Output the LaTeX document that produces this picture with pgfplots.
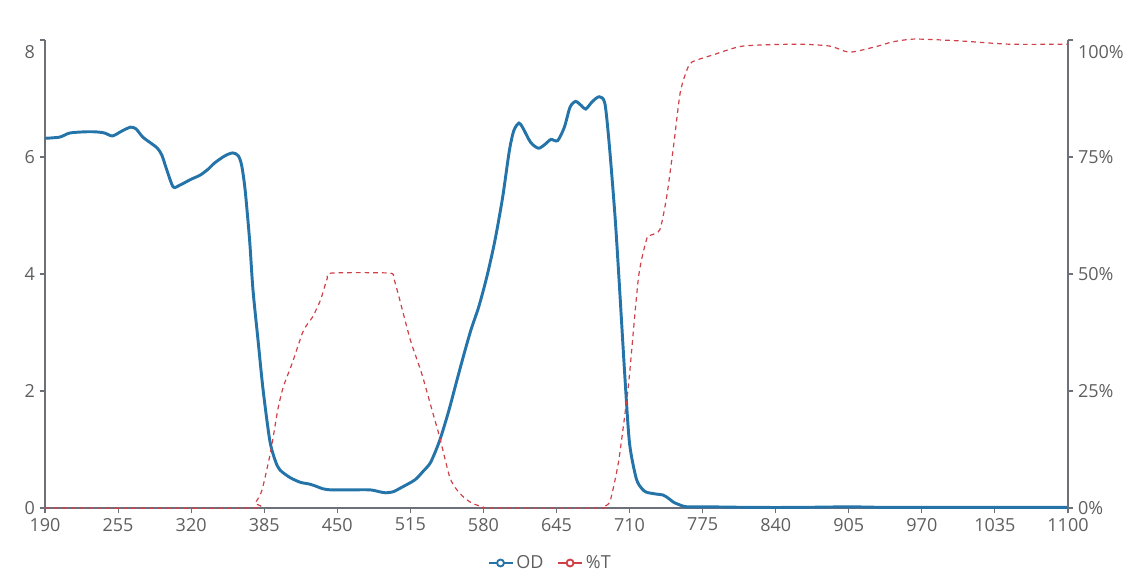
\documentclass[border=0pt]{standalone}
\usepackage{pgfplots}
\pgfplotsset{compat=1.18}
\usepackage{fontspec}
\setmainfont{Open Sans}
\definecolor{axgray}{RGB}{110,112,121}
\definecolor{txgray}{RGB}{95,95,95}
\definecolor{odblue}{RGB}{37,116,169}
\definecolor{tred}{RGB}{208,64,72}
\begin{document}
\begin{tikzpicture}
\pgfplotsset{
  common/.style={
    scale only axis, width=767.25pt, height=351pt,
    xmin=190, xmax=1100,
    xtick={190,255,...,1100},
    tick align=outside, major tick length=4pt,
    tick style={axgray, line width=0.8pt},
    axis line style={axgray, line width=0.8pt},
    ticklabel style={font=\fontsize{13.5}{15}\selectfont, text=txgray},
    /pgf/number format/assume math mode=true,
    /pgf/number format/1000 sep={},
    clip=false,
  }
}
\begin{axis}[common,
  axis y line*=left, axis x line*=bottom,
  ymin=0, ymax=8, ytick={0,2,4,6},
  extra y ticks={8}, extra y tick style={yticklabel style={yshift=-9pt}},
  legend style={at={(0.494,-0.1175)}, anchor=center, draw=none, legend columns=2,
    font=\fontsize{13.5}{15}\selectfont, text=txgray,
    /tikz/every even column/.append style={column sep=8pt}},
  legend image code/.code={
    \draw[solid, line width=1.8pt] (0pt,0pt) -- (18pt,0pt);
    \draw[solid, line width=1.4pt, fill=white] (9pt,0pt) circle (2.6pt);},
]
\addplot[odblue, line width=2.2pt, smooth, tension=0.45] coordinates {
(190,6.32)(203,6.34)(212,6.41)(225,6.43)(235,6.43)(243,6.41)(250,6.36)(258,6.44)(266,6.51)(271,6.48)(277,6.34)(284,6.24)(290,6.15)(294,6.03)(298,5.80)(304,5.49)(310,5.52)(320,5.62)(328,5.69)(335,5.79)(341,5.90)(350,6.02)(357,6.07)(362,6.02)(365,5.85)(368,5.44)(372,4.58)(375,3.73)(379.5,2.87)(384,2.02)(390,1.15)(395,0.80)(399,0.65)(408,0.52)(417,0.44)(425,0.41)(430,0.38)(437,0.33)(444,0.31)(460,0.31)(479,0.31)(487,0.28)(493,0.26)(500,0.28)(507,0.35)(519,0.48)(526,0.62)(533,0.78)(541,1.15)(549,1.65)(556.5,2.19)(563,2.65)(569,3.05)(576,3.45)(583,3.95)(590,4.55)(597,5.3)(603,6.1)(607,6.45)(611.6,6.58)(615,6.5)(622,6.25)(629,6.15)(635,6.22)(640,6.30)(646,6.28)(652,6.51)(657,6.85)(662,6.95)(667,6.88)(671,6.82)(677,6.95)(683,7.03)(688,6.92)(692,6.2)(697,5.0)(700.5,3.95)(706,2.19)(710,1.1)(716,0.5)(721,0.33)(725,0.27)(733,0.24)(740,0.22)(745,0.16)(749,0.10)(755,0.05)(761,0.02)(780,0.02)(820,0.01)(860,0.01)(905,0.02)(940,0.01)(1000,0.01)(1100,0.01)
};
\addlegendentry{OD}
\addlegendimage{tred, line width=1.8pt}
\addlegendentry{\%T}
\end{axis}
\begin{axis}[common,
  axis y line*=right, axis x line=none,
  ymin=0, ymax=100, ytick={0,25,50,75},
  yticklabels={0\%,25\%,50\%,75\%},
  extra y ticks={100}, extra y tick labels={100\%},
  extra y tick style={yticklabel style={yshift=-9pt}},
]
\addplot[tred, line width=0.9pt, dash pattern=on 3.5pt off 3pt, smooth, tension=0.4] coordinates {
(190,0)(372,0)(377,1.1)(383,3.8)(391,12.4)(397,20.9)(402,25.9)(410,31)(419,37.4)(424,39.5)(428,40.8)(435,44.4)(441,49)(445,50.2)(496,50.2)(500,49.2)(504,45.9)(515,35.9)(525,28.8)(535,20.3)(541,15.2)(550,6.6)(556,4)(562,2.4)(570,1)(580,0.2)(586,0)(685,0)(689,0.5)(693,1.7)(700,9.6)(706,20.3)(709.5,27.4)(718,49.4)(725.5,57.7)(729,58.3)(737,59.5)(743,66.5)(749,77.1)(755,88.7)(761,93.6)(765.5,95.3)(784,96.8)(811,98.7)(859,99.1)(888,98.7)(906,97.4)(931,98.7)(944,99.6)(964,100.2)(1004,99.8)(1048,99.1)(1100,99.1)
};
\end{axis}
\pgfresetboundingbox
\useasboundingbox (-33.75pt,-48.75pt) rectangle (810.75pt,381pt);
\end{tikzpicture}
\end{document}
